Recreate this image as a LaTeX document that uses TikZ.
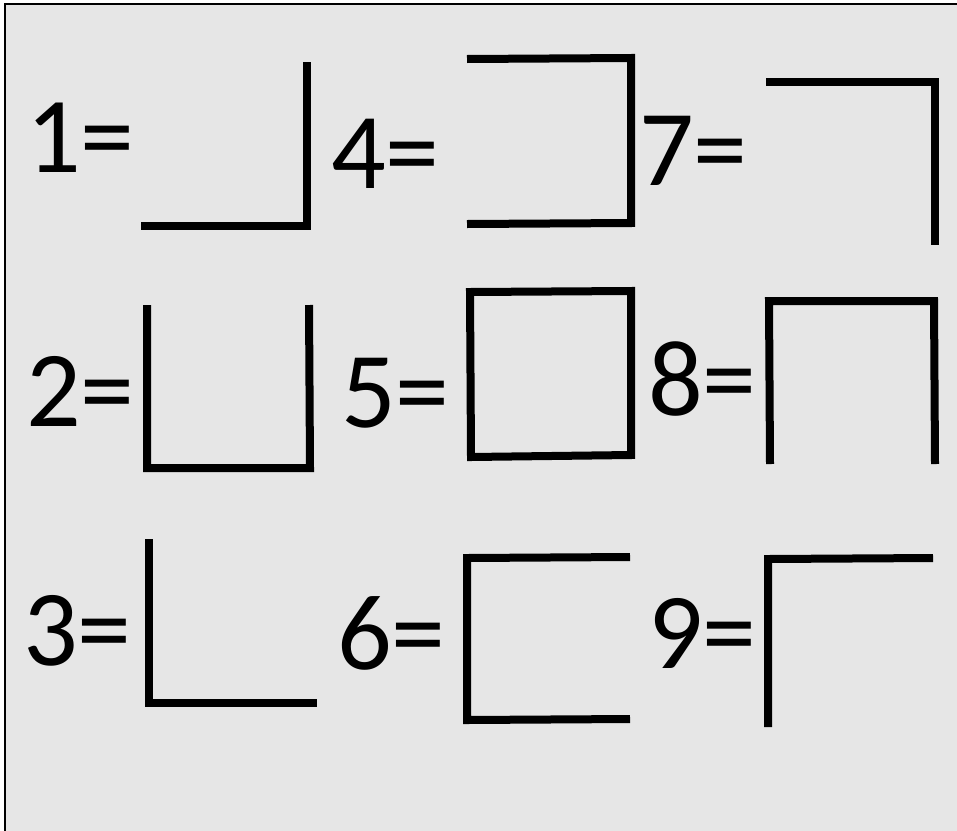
\documentclass[tikz,border=0pt]{standalone}
\usepackage{fontspec}
\setmainfont{Carlito}
\definecolor{panel}{HTML}{E6E6E6}
\begin{document}
\begin{tikzpicture}[x=1pt,y=-1pt,
  lbl/.style={anchor=base west,inner sep=0pt,font=\fontsize{108}{108}\selectfont},
  glyph/.style={line width=8pt,line join=miter,line cap=butt}]
\useasboundingbox (0,0) rectangle (957,830);
\fill[white] (0,0) rectangle (957,830);
\fill[panel] (5,4) rectangle (960,834);
\draw[line width=1.5pt] (5,834) -- (5,4) -- (960,4);
% labels
\node[lbl] (n1) at (26,172) {1=};
\node[lbl] (n2) at (26,426) {2=};
\node[lbl] (n3) at (23,665) {3=};
\node[lbl] (n4) at (331,188) {4=};
\node[lbl] (n5) at (341,427) {5=};
\node[lbl] (n6) at (337,669) {6=};
\node[lbl] (n7) at (639,185) {7=};
\node[lbl] (n8) at (648,415) {8=};
\node[lbl] (n9) at (648,668) {9=};
% symbols
\draw[glyph] (141,226) -- (307,226) -- (307,62);
\draw[glyph] (147,305) -- (147,468) -- (310,468) -- (309,305);
\draw[glyph] (149,539) -- (149,703) -- (317,703);
\draw[glyph] (467,59) -- (631,58) -- (631,223) -- (467,224);
\draw[glyph] (470,292) -- (631,291) -- (631,455) -- (471,457) -- cycle;
\draw[glyph] (630,557) -- (467,558) -- (467,720) -- (630,719);
\draw[glyph] (766,82) -- (935,82) -- (935,245);
\draw[glyph] (770,464) -- (769,301) -- (934,301) -- (935,464);
\draw[glyph] (768,727) -- (768,559) -- (933,558);
\end{tikzpicture}
\end{document}
